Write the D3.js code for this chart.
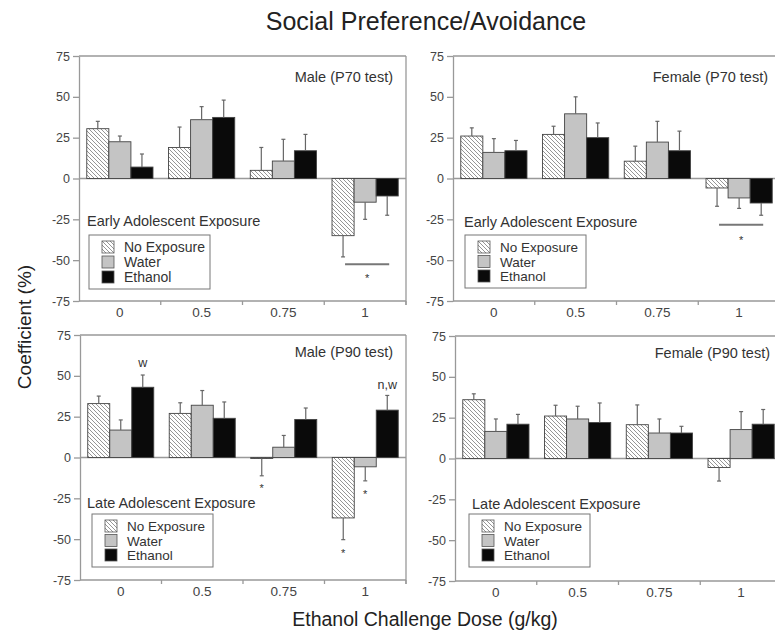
<!DOCTYPE html>
<html>
<head>
<meta charset="utf-8">
<script src="https://cdn.jsdelivr.net/npm/d3@7"></script>
<style>
  body { margin: 0; background: #fff; }
  svg { display: block; font-family: "Liberation Sans", Arial, sans-serif; }
</style>
</head>
<body>
<div id="chart"></div>
<script>
const doses = ["0", "0.5", "0.75", "1"];
const groups = ["No Exposure", "Water", "Ethanol"];
const yTicks = [-75, -50, -25, 0, 25, 50, 75];

// rows follow groups, columns follow doses
const maleP70Mean = [[30.5, 19, 5, -35], [22.5, 36, 10.7, -14.5], [7, 37.4, 17, -10.7]];
const maleP70Sem = [[4.5, 12.5, 14, 13], [3.5, 8, 13.3, 10.5], [8, 10.6, 10, 11.8]];
const femaleP70Mean = [[26, 27, 10.6, -5.8], [16, 39.6, 22.3, -11.9], [17, 25, 17, -15]];
const femaleP70Sem = [[5, 5, 9.2, 11.2], [8.4, 10.4, 12.7, 6.4], [6.3, 9, 12, 7.5]];
const maleP90Mean = [[33, 27, -0.5, -37], [16.8, 32, 6.3, -5.7], [43, 24, 23.3, 29]];
const maleP90Sem = [[4.6, 6.5, 10.7, 13.3], [6.2, 9, 7.2, 8.6], [7.5, 10, 7, 9]];
const femaleP90Mean = [[36, 26, 20.7, -5.5], [16.6, 24.2, 15.6, 17.7], [21, 22, 15.6, 21]];
const femaleP90Sem = [[3.6, 6.6, 12.1, 8.3], [7.6, 7.8, 8.6, 11], [6, 12, 4.1, 9]];

// significance marks: text placed at a value above/below a bar
const maleP70Marks = [{dose: "1", group: "Water", text: "*", value: -59.5}];
const femaleP70Marks = [{dose: "1", group: "Water", text: "*", value: -36.6}];
const maleP90Marks = [
  {dose: "0", group: "Ethanol", text: "w", value: 58},
  {dose: "1", group: "Ethanol", text: "n,w", value: 44.4},
  {dose: "0.75", group: "No Exposure", text: "*", value: -17.6},
  {dose: "1", group: "No Exposure", text: "*", value: -57},
  {dose: "1", group: "Water", text: "*", value: -21}
];
const femaleP90Marks = [];

const maleP70Lines = [{dose: "1", value: -52.5}];
const femaleP70Lines = [{dose: "1", value: -28.3}];

const panels = [
  {mean: maleP70Mean, sem: maleP70Sem, marks: maleP70Marks, lines: maleP70Lines,
   label: "Male (P70 test)", exposure: "Early Adolescent Exposure",
   x0: 79, y0: 56, w: 327, h: 245, labelX: 393, labelY: 82,
   expX: 87, expY: 226, legX: 89, legY: 235, legH: 54, rowGap: 15, legFont: 14},
  {mean: femaleP70Mean, sem: femaleP70Sem, marks: femaleP70Marks, lines: femaleP70Lines,
   label: "Female (P70 test)", exposure: "Early Adolescent Exposure",
   x0: 453, y0: 56, w: 327, h: 245, labelX: 768, labelY: 82,
   expX: 464, expY: 227, legX: 465, legY: 235, legH: 53, rowGap: 14.5, legFont: 13.5},
  {mean: maleP90Mean, sem: maleP90Sem, marks: maleP90Marks, lines: [],
   label: "Male (P90 test)", exposure: "Late Adolescent Exposure",
   x0: 80, y0: 335, w: 326, h: 245, labelX: 393, labelY: 357,
   expX: 87, expY: 508, legX: 92, legY: 514, legH: 53, rowGap: 14.5, legFont: 13.5},
  {mean: femaleP90Mean, sem: femaleP90Sem, marks: femaleP90Marks, lines: [],
   label: "Female (P90 test)", exposure: "Late Adolescent Exposure",
   x0: 455, y0: 336, w: 327, h: 245, labelX: 770, labelY: 358,
   expX: 472, expY: 509, legX: 469, legY: 514, legH: 53, rowGap: 14.5, legFont: 13.5}
];

const fills = {"No Exposure": "url(#hatch)", "Water": "#c4c4c4", "Ethanol": "#0a0a0a"};
const axisColor = "#999";
const textColor = "#333";

const svg = d3.select("#chart").append("svg")
    .attr("width", 775)
    .attr("height", 633);

const pat = svg.append("defs").append("pattern")
    .attr("id", "hatch")
    .attr("patternUnits", "userSpaceOnUse")
    .attr("width", 4)
    .attr("height", 4);
pat.append("rect").attr("width", 4).attr("height", 4).attr("fill", "#fff");
pat.append("path")
    .attr("d", "M-1,-1L5,5M-1,3L1,5M3,-1L5,1")
    .attr("stroke", "#8a8a8a")
    .attr("stroke-width", 0.9);

const drawPanel = p => {
  const g = svg.append("g");
  const x = d3.scaleBand().domain(doses)
      .range([p.x0, p.x0 + p.w])
      .paddingInner(0.19).paddingOuter(0.095);
  const xg = d3.scaleBand().domain(groups).range([0, x.bandwidth()]);
  const y = d3.scaleLinear().domain([-75, 75]).range([p.y0 + p.h, p.y0]);

  const rows = groups.flatMap((grp, i) => doses.map((d, j) => ({
    dose: d, group: grp, mean: p.mean[i][j], sem: p.sem[i][j]
  })));
  const bx = d => x(d.dose) + xg(d.group);
  const cx = d => bx(d) + xg.bandwidth() / 2;

  // frame: top, right, zero line
  g.append("line").attr("x1", p.x0).attr("x2", p.x0 + p.w)
      .attr("y1", y(75)).attr("y2", y(75))
      .attr("stroke", axisColor).attr("stroke-width", 1.3);
  g.append("line").attr("x1", p.x0 + p.w).attr("x2", p.x0 + p.w)
      .attr("y1", y(75)).attr("y2", y(-75) + 4)
      .attr("stroke", axisColor).attr("stroke-width", 1.3);
  g.append("line").attr("x1", p.x0).attr("x2", p.x0 + p.w)
      .attr("y1", y(0)).attr("y2", y(0))
      .attr("stroke", axisColor).attr("stroke-width", 1.3);

  // y axis
  const ya = g.append("g")
      .attr("transform", `translate(${p.x0},0)`)
      .call(d3.axisLeft(y).tickValues(yTicks).tickFormat(d => String(d)).tickSizeOuter(0));
  ya.select(".domain").attr("stroke", axisColor).attr("stroke-width", 1.3);
  ya.selectAll(".tick line").attr("stroke", axisColor).attr("stroke-width", 1.3);
  ya.selectAll("text").attr("fill", "#444").attr("font-size", 12.5)
      .attr("font-family", "Liberation Sans, Arial, sans-serif");

  // x axis: ticks at band boundaries, labels at band centres
  const bounds = doses.map(d => x(d) - x.step() * 0.095).concat([p.x0 + p.w]);
  g.append("line").attr("x1", p.x0).attr("x2", p.x0 + p.w)
      .attr("y1", y(-75)).attr("y2", y(-75))
      .attr("stroke", axisColor).attr("stroke-width", 1.3);
  g.selectAll(".btick").data(bounds.slice(1)).join("line")
      .attr("x1", d => d).attr("x2", d => d)
      .attr("y1", y(-75)).attr("y2", y(-75) + 4)
      .attr("stroke", axisColor).attr("stroke-width", 1.3);
  g.selectAll(".xlab").data(doses).join("text")
      .attr("x", d => x(d) + x.bandwidth() / 2)
      .attr("y", y(-75) + 16)
      .attr("text-anchor", "middle")
      .attr("font-size", 13.5)
      .attr("fill", "#444")
      .text(d => d);

  // bars
  g.selectAll(".bar").data(rows).join("rect")
      .attr("x", bx)
      .attr("y", d => y(Math.max(0, d.mean)))
      .attr("width", xg.bandwidth())
      .attr("height", d => Math.max(1, Math.abs(y(d.mean) - y(0))))
      .attr("fill", d => fills[d.group])
      .attr("stroke", "#444")
      .attr("stroke-width", 0.9);

  // error bars
  const errEnd = d => d.mean + (d.mean >= 0 ? d.sem : -d.sem);
  g.selectAll(".err").data(rows).join("line")
      .attr("x1", cx).attr("x2", cx)
      .attr("y1", d => y(d.mean)).attr("y2", d => y(errEnd(d)))
      .attr("stroke", "#666").attr("stroke-width", 1.2);
  g.selectAll(".cap").data(rows).join("line")
      .attr("x1", d => cx(d) - 2).attr("x2", d => cx(d) + 2)
      .attr("y1", d => y(errEnd(d))).attr("y2", d => y(errEnd(d)))
      .attr("stroke", "#666").attr("stroke-width", 1.2);

  // significance lines
  g.selectAll(".sig").data(p.lines).join("line")
      .attr("x1", d => x(d.dose) + xg("No Exposure") + xg.bandwidth() / 2 + 2)
      .attr("x2", d => x(d.dose) + xg("Ethanol") + xg.bandwidth() / 2 + 2)
      .attr("y1", d => y(d.value)).attr("y2", d => y(d.value))
      .attr("stroke", "#777").attr("stroke-width", 2);

  g.selectAll(".mark").data(p.marks).join("text")
      .attr("x", d => x(d.dose) + xg(d.group) + xg.bandwidth() / 2 + (d.text === "*" && p.lines.length ? 2 : 0))
      .attr("y", d => y(d.value) + (d.text === "*" ? 6 : 4))
      .attr("text-anchor", "middle")
      .attr("font-size", d => d.text === "*" ? 11 : 12.5)
      .attr("fill", textColor)
      .text(d => d.text);

  // panel label and exposure label
  g.append("text").attr("x", p.labelX).attr("y", p.labelY)
      .attr("text-anchor", "end").attr("font-size", 14.5)
      .attr("fill", textColor).text(p.label);
  g.append("text").attr("x", p.expX).attr("y", p.expY)
      .attr("font-size", 14.5).attr("fill", textColor).text(p.exposure);

  // legend
  const lg = g.append("g").attr("transform", `translate(${p.legX},${p.legY})`);
  lg.append("rect").attr("width", 121).attr("height", p.legH)
      .attr("fill", "#fff").attr("stroke", "#777").attr("stroke-width", 1);
  const item = lg.selectAll(".item").data(groups).join("g")
      .attr("transform", (d, i) => `translate(13,${6 + i * p.rowGap})`);
  item.append("rect").attr("width", 12).attr("height", 12)
      .attr("fill", d => fills[d]).attr("stroke", "#555").attr("stroke-width", 0.8);
  item.append("text").attr("x", 22).attr("y", 11)
      .attr("font-size", p.legFont).attr("fill", textColor).text(d => d);
};

panels.forEach(drawPanel);

svg.append("text").attr("x", 426).attr("y", 30)
    .attr("text-anchor", "middle").attr("font-size", 25)
    .attr("fill", "#222").text("Social Preference/Avoidance");
svg.append("text")
    .attr("transform", "translate(31,327) rotate(-90)")
    .attr("text-anchor", "middle").attr("font-size", 19)
    .attr("fill", "#222").text("Coefficient (%)");
svg.append("text").attr("x", 425).attr("y", 626)
    .attr("text-anchor", "middle").attr("font-size", 19.5)
    .attr("fill", "#222").text("Ethanol Challenge Dose (g/kg)");
</script>
</body>
</html>
